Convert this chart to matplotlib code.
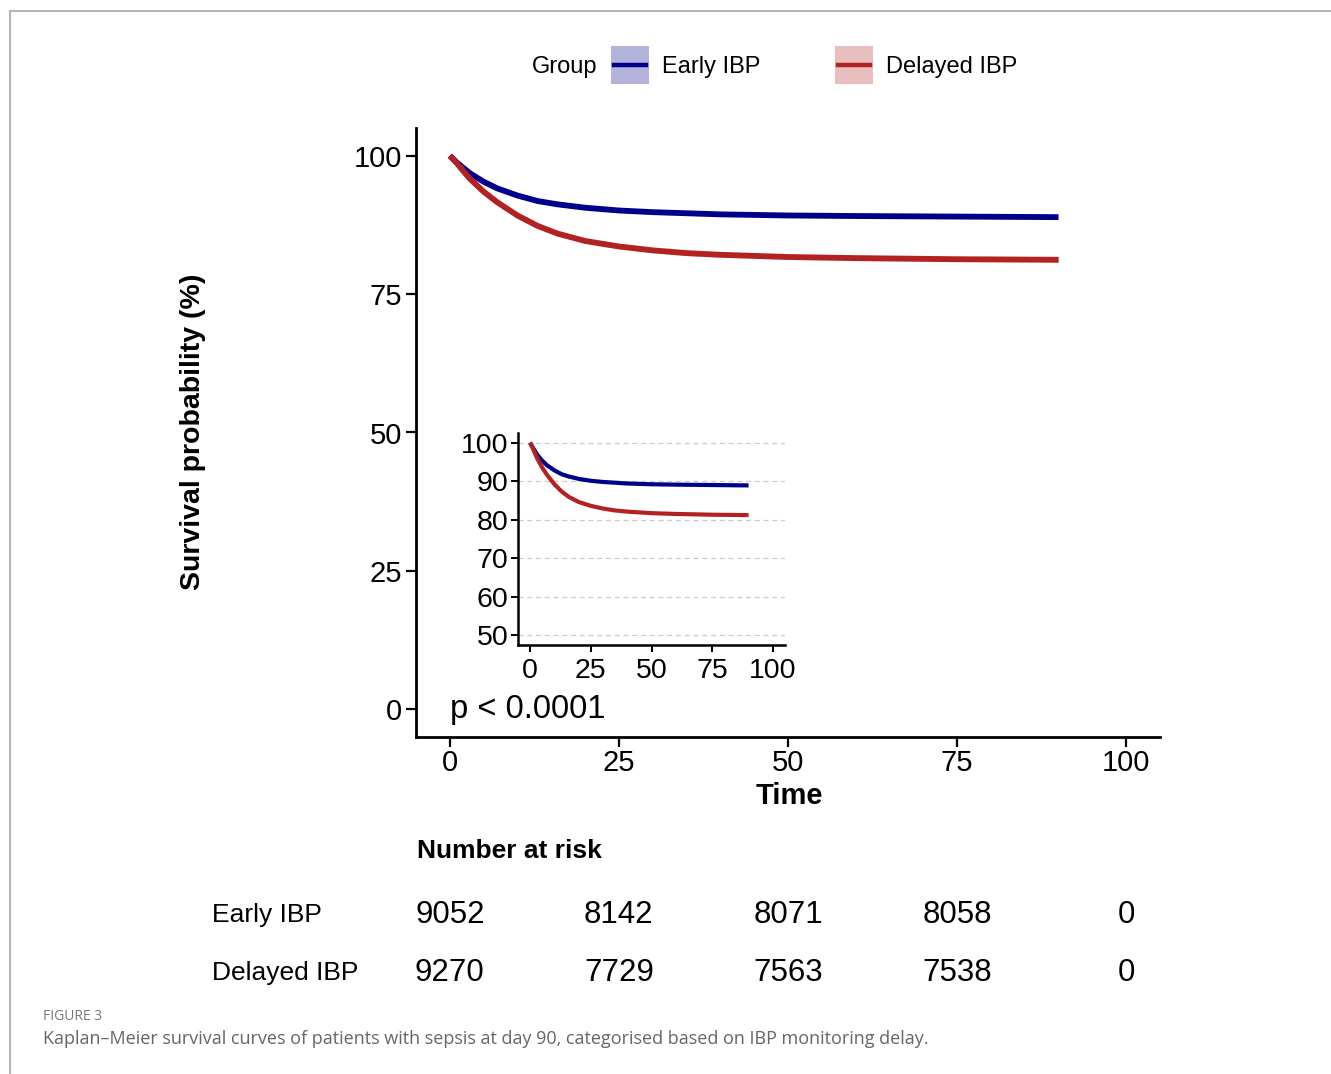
import numpy as np
import matplotlib
matplotlib.use("Agg")
import matplotlib.pyplot as plt
from matplotlib.lines import Line2D
from matplotlib.patches import Rectangle
from matplotlib.transforms import blended_transform_factory

plt.rcParams['font.family'] = ['Liberation Sans', 'DejaVu Sans']

# Kaplan-Meier curves
times = [0, 1, 2, 3, 5, 7, 10, 13, 16, 20, 25, 30, 35, 40, 50, 60, 75, 90]
surv_early = [100, 98.8, 97.8, 96.8, 95.3, 94.1, 92.8, 91.8, 91.2, 90.6,
              90.1, 89.8, 89.6, 89.4, 89.2, 89.1, 89.0, 88.9]
surv_delayed = [100, 98.7, 97.2, 95.8, 93.5, 91.6, 89.2, 87.3, 85.9, 84.6,
                83.6, 82.9, 82.4, 82.1, 81.7, 81.5, 81.3, 81.2]

groups = ['Early IBP', 'Delayed IBP']
colors = ['#00008B', '#B22222']
fill_colors = ['#B3B3DC', '#E8BEBE']

risk_times = [0, 25, 50, 75, 100]
risk_early = [9052, 8142, 8071, 8058, 0]
risk_delayed = [9270, 7729, 7563, 7538, 0]

main_ticks = [0, 25, 50, 75, 100]
inset_yticks = [50, 60, 70, 80, 90, 100]

W, H = 1331, 1074
fig = plt.figure(figsize=(W / 100, H / 100), dpi=100)


def fx(x):
    return x / W


def fy(y):
    return 1 - y / H


def style_axes(ax, lw, ticklen, labelsize, pad):
    for s in ['top', 'right']:
        ax.spines[s].set_visible(False)
    for s in ['left', 'bottom']:
        ax.spines[s].set_linewidth(lw)
    ax.tick_params(direction='out', length=ticklen, width=lw * 0.8,
                   labelsize=labelsize, colors='black', pad=pad)


# main plot
ax = fig.add_axes([fx(416), fy(737), fx(1160) - fx(416), fy(128) - fy(737)])
curves = [surv_early, surv_delayed]
for surv, c in zip(curves, colors):
    ax.plot(times, surv, color=c, lw=4.2, solid_capstyle='butt')
ax.fill_between(times, np.array(surv_delayed) - 0.45, np.array(surv_delayed) + 0.45,
                color=fill_colors[1], alpha=0.6, lw=0)
ax.set_xlim(-5, 105)
ax.set_ylim(-5, 105)
ax.set_xticks(main_ticks)
ax.set_yticks(main_ticks)
style_axes(ax, 2.0, 7, 21, 3)
ax.tick_params(axis='x', pad=1.5)
ax.text(0, 0, 'p < 0.0001', fontsize=23.5, ha='left', va='center')

fig.text(fx(789), fy(796), 'Time', fontsize=21, fontweight='bold',
         ha='center', va='center')
fig.text(fx(193), fy(432), 'Survival probability (%)', fontsize=20.5,
         fontweight='bold', rotation=90, ha='center', va='center')

# inset
ins = fig.add_axes([fx(518), fy(645), fx(785) - fx(518), fy(433) - fy(645)])
for surv, c in zip(curves, colors):
    ins.plot(times, surv, color=c, lw=3.0, solid_capstyle='butt', zorder=3)
ins.set_xlim(-5, 105)
ins.set_ylim(47.5, 102.5)
ins.set_xticks(main_ticks)
ins.set_yticks(inset_yticks)
for v in inset_yticks:
    ins.axhline(v, color='#cccccc', lw=0.9, ls=(0, (4, 3)), zorder=1)
ins.patch.set_alpha(0)
style_axes(ins, 1.8, 5, 20.5, 2)
ins.tick_params(axis='x', pad=4)

# legend
fig.text(fx(597), fy(67), 'Group', fontsize=17, ha='right', va='center')
legend_x = [611, 835]
for g, c, fc, x0 in zip(groups, colors, fill_colors, legend_x):
    fig.patches.append(Rectangle((fx(x0), fy(84)), fx(38), fy(46) - fy(84),
                                 transform=fig.transFigure, color=fc, lw=0))
    fig.lines.append(Line2D([fx(x0 + 3), fx(x0 + 35)], [fy(65), fy(65)],
                            transform=fig.transFigure, color=c, lw=3.2))
    fig.text(fx(x0 + 51), fy(67), g, fontsize=17, ha='left', va='center')

# number at risk table
fig.text(fx(417), fy(851), 'Number at risk', fontsize=19, fontweight='bold',
         ha='left', va='center')
risk_trans = blended_transform_factory(ax.transData, fig.transFigure)
row_y = [915, 973]
for g, counts, yy in zip(groups, [risk_early, risk_delayed], row_y):
    fig.text(fx(212), fy(yy), g, fontsize=19, ha='left', va='center')
    for t, n in zip(risk_times, counts):
        ax.text(t, fy(yy), str(n), fontsize=22.5, ha='center', va='center',
                transform=risk_trans, clip_on=False)

# frame and caption
fig.lines.append(Line2D([fx(10), 1], [fy(11), fy(11)], transform=fig.transFigure,
                        color='#b5b5b5', lw=1.5))
fig.lines.append(Line2D([fx(10), fx(10)], [fy(11), 0], transform=fig.transFigure,
                        color='#b5b5b5', lw=1.5))
fig.text(fx(43), fy(1016), 'FIGURE 3', fontsize=10, color='#777777',
         family=['Open Sans', 'DejaVu Sans'], ha='left', va='center')
fig.text(fx(43), fy(1039),
         'Kaplan\u2013Meier survival curves of patients with sepsis at day 90, '
         'categorised based on IBP monitoring delay.',
         fontsize=13, color='#666666', family=['Open Sans', 'DejaVu Sans'],
         ha='left', va='center')

fig.savefig('out.png', dpi=100)
